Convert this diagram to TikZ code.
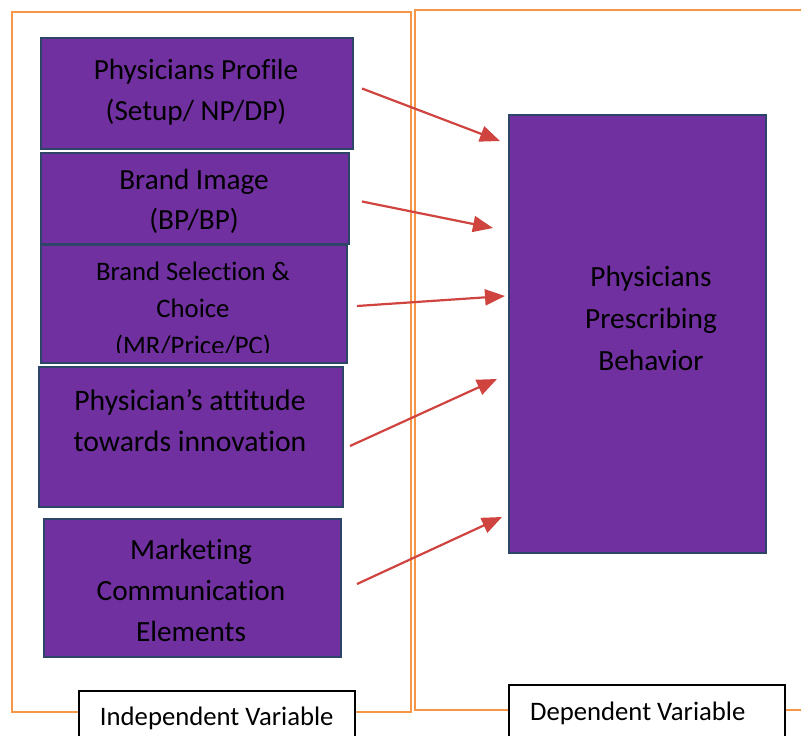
\documentclass[tikz,border=0pt]{standalone}
\usepackage{fontspec}
\setmainfont{Carlito}[Ligatures=NoCommon]
\usetikzlibrary{arrows.meta}

\definecolor{boxfill}{HTML}{7030A0}
\definecolor{boxline}{HTML}{2E4468}
\definecolor{frameorange}{HTML}{F79646}
\definecolor{arrowred}{HTML}{D04440}

\tikzset{
  factor/.style={draw=boxline, fill=boxfill, line width=2pt, anchor=north west, inner sep=0pt},
  ftext/.style={align=center, text=black, inner sep=0pt},
  frame/.style={draw=frameorange, line width=2.5pt},
  varlabel/.style={draw=black, fill=white, line width=1.5pt, anchor=north west, inner sep=0pt},
  link/.style={draw=arrowred, line width=2.2pt, -{Triangle[length=20pt,width=16pt]}}
}

\begin{document}
\begin{tikzpicture}[x=1pt,y=-1pt]
    \useasboundingbox (0,0) rectangle (801,736);
    \clip (0,0) rectangle (801,736);
    % the two frames
    \draw[frame] (12,12) rectangle (411,712);
    \draw[frame] (810,10) -- (415,10) -- (415,710) -- (810,710);
    % independent variables
    \node[factor, minimum width=312pt, minimum height=111pt] (profile) at (40,37) {};
    \node[factor, minimum width=308pt, minimum height=91pt] (image) at (40,152) {};
    \node[factor, minimum width=306pt, minimum height=118pt] (choice) at (40,244) {};
    \node[factor, minimum width=304pt, minimum height=140pt] (attitude) at (38,366) {};
    \node[factor, minimum width=297pt, minimum height=138pt] (market) at (43,518) {};
    \node[ftext, font=\fontsize{29.2}{41}\selectfont] (profiletxt) at (196,92) {Physicians Profile\\(Setup/ NP/DP)};
    \node[ftext, font=\fontsize{29.2}{40}\selectfont] (imagetxt) at (194,201) {Brand Image\\(BP/BP)};
    \begin{scope}
      \clip (42,246) rectangle (344,352);
      \node[ftext, font=\fontsize{26.7}{37}\selectfont] (choicetxt) at (193,310) {Brand Selection \&\\Choice\\(MR/Price/PC)};
    \end{scope}
    \node[ftext, font=\fontsize{29.7}{41}\selectfont] (attitudetxt) at (190,421) {Physician’s attitude\\towards innovation};
    \node[ftext, font=\fontsize{29.3}{41}\selectfont] (markettxt) at (191,590) {Marketing\\Communication\\Elements};
    % dependent variable
    \node[factor, minimum width=257pt, minimum height=438pt] (behavior) at (508,114) {};
    \node[ftext, font=\fontsize{29.3}{42}\selectfont] (behaviortxt) at (651,318) {Physicians\\Prescribing\\Behavior};
    % frame labels
    \node[varlabel, minimum width=276pt, minimum height=56pt] (indep) at (78,690) {};
    \node[ftext, font=\fontsize{26.7}{30}\selectfont] at (indep.center) {Independent Variable};
    \node[varlabel, minimum width=276pt, minimum height=58pt] (dep) at (508,684) {};
    \node[ftext, font=\fontsize{26.7}{30}\selectfont] at ([xshift=-9]dep.center) {Dependent Variable};
    % links
    \draw[link] ([shift={(8,-5)}]profile.east) -- ([shift={(-8,27)}]behavior.north west);
    \draw[link] ([shift={(12,3)}]image.east) -- ([shift={(-15,114)}]behavior.north west);
    \draw[link] ([shift={(9,2)}]choice.east) -- ([shift={(-3,182)}]behavior.north west);
    \draw[link] ([shift={(6,9)}]attitude.east) -- ([shift={(-11,265)}]behavior.north west);
    \draw[link] ([shift={(15,-4)}]market.east) -- ([shift={(-6,403)}]behavior.north west);
\end{tikzpicture}
\end{document}
